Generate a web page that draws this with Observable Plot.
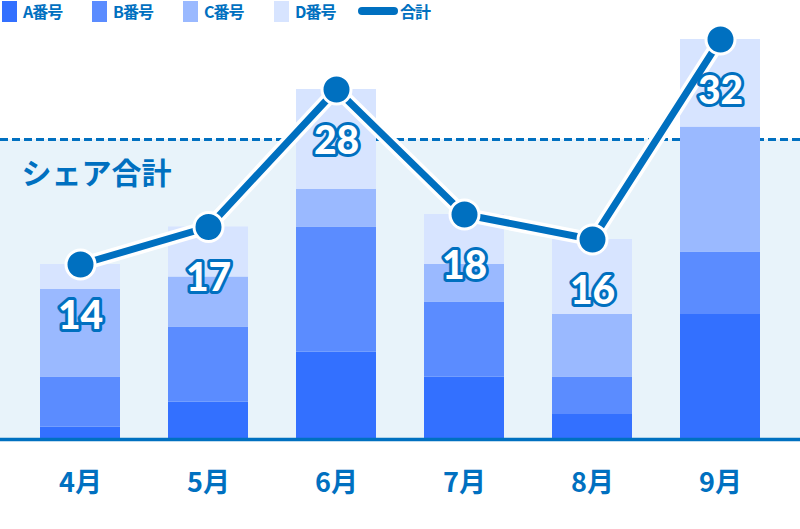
<!DOCTYPE html>
<html>
<head>
<meta charset="utf-8">
<script src="https://cdn.jsdelivr.net/npm/d3@7"></script>
<script src="https://cdn.jsdelivr.net/npm/@observablehq/plot@0.6"></script>
<style>
  html, body { margin: 0; padding: 0; background: #ffffff; }
  body { width: 800px; height: 529px; overflow: hidden; font-family: "Noto Sans CJK JP", "Noto Sans", sans-serif; }
  #legend { position: relative; height: 22px; width: 800px; }
  #legend .sw { position: absolute; top: 1px; width: 15px; height: 21px; }
  #legend .lb { position: absolute; top: 0; height: 22px; line-height: 22px; font-size: 16px; font-weight: 700; color: #0070c0; letter-spacing: -1px; white-space: nowrap; }
  #legend .ln { position: absolute; top: 7px; width: 40px; height: 8px; border-radius: 4px; background: #0070c0; }
  svg { overflow: visible; }
</style>
</head>
<body>
<div id="legend"></div>
<div id="chart"></div>
<script>
const months = ["4月", "5月", "6月", "7月", "8月", "9月"];
const seriesNames = ["A番号", "B番号", "C番号", "D番号"];
const seriesColors = ["#3370ff", "#5b8cff", "#9ab9ff", "#d7e4ff"];
const aValues = [1, 3, 7, 5, 2, 10];
const bValues = [4, 6, 10, 6, 3, 5];
const cValues = [7, 4, 3, 3, 5, 10];
const dValues = [2, 4, 8, 4, 6, 7];
const totals = [14, 17, 28, 18, 16, 32];
const totalName = "合計";
const shareTotal = 24;
const shareLabel = "シェア合計";

const blue = "#0070c0";
const seriesValues = [aValues, bValues, cValues, dValues];
const stacked = months.flatMap((m, i) =>
  seriesNames.map((s, j) => ({month: m, series: s, value: seriesValues[j][i]}))
);
const totalRows = months.map((m, i) => ({month: m, total: totals[i]}));

// legend
const legend = document.getElementById("legend");
const legendLefts = [2, 92, 183, 274];
seriesNames.forEach((s, j) => {
  const sw = document.createElement("div");
  sw.className = "sw";
  sw.style.left = legendLefts[j] + "px";
  sw.style.background = seriesColors[j];
  legend.appendChild(sw);
  const lb = document.createElement("div");
  lb.className = "lb";
  lb.style.left = (legendLefts[j] + 21) + "px";
  lb.textContent = s;
  legend.appendChild(lb);
});
const ln = document.createElement("div");
ln.className = "ln";
ln.style.left = "358px";
legend.appendChild(ln);
const tl = document.createElement("div");
tl.className = "lb";
tl.style.left = "400px";
tl.textContent = totalName;
legend.appendChild(tl);

const chart = Plot.plot({
  width: 800,
  height: 507,
  marginLeft: 0,
  marginRight: 0,
  marginTop: 17,
  marginBottom: 90,
  style: {overflow: "visible", background: "transparent"},
  x: {domain: months, paddingInner: 0.375, paddingOuter: 0.3125, axis: null},
  y: {domain: [0, 32], axis: null},
  color: {domain: seriesNames, range: seriesColors},
  marks: [
    Plot.rect([shareTotal], {y1: 0, y2: d => d, fill: "#e8f3fa"}),
    Plot.ruleY([shareTotal], {stroke: blue, strokeWidth: 3, strokeDasharray: "8,4"}),
    Plot.text([shareLabel], {frameAnchor: "left", x: null, y: shareTotal, dx: 21, dy: 35, text: d => d,
      fill: blue, fontSize: 30, fontWeight: 700, textAnchor: "start",
      fontFamily: "Noto Sans CJK JP"}),
    Plot.barY(stacked, {x: "month", y: "value", fill: "series"}),
    Plot.ruleY([0], {stroke: blue, strokeWidth: 3.5}),
    Plot.lineY(totalRows, {x: "month", y: "total", stroke: "white", strokeWidth: 14, strokeLinejoin: "round"}),
    Plot.lineY(totalRows, {x: "month", y: "total", stroke: blue, strokeWidth: 7, strokeLinejoin: "round"}),
    Plot.dot(totalRows, {x: "month", y: "total", r: 14.5, fill: blue, stroke: "white", strokeWidth: 3}),
    Plot.text(totalRows, {x: "month", y: "total", text: d => String(d.total), dy: 52,
      fill: "white", stroke: blue, strokeWidth: 6, paintOrder: "stroke", strokeLinejoin: "round",
      fontSize: 39, fontWeight: 900, fontFamily: "Lato"}),
    Plot.text(months, {x: d => d, y: 0, dy: 44, text: d => d, fill: blue,
      fontSize: 27, fontWeight: 700, fontFamily: "Noto Sans CJK JP"})
  ]
});
document.getElementById("chart").appendChild(chart);
</script>
</body>
</html>
